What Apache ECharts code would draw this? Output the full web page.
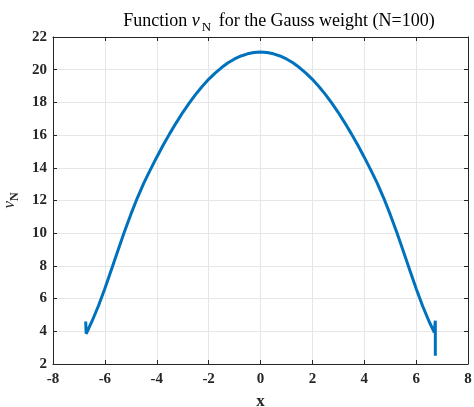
<!DOCTYPE html>
<html>
<head>
<meta charset="utf-8">
<script src="https://cdn.jsdelivr.net/npm/echarts@6/dist/echarts.min.js"></script>
<style>html,body{margin:0;padding:0;background:#fff;}#c{width:474px;height:407px;}</style>
</head>
<body>
<div id="c"></div>
<script>
// x positions of the curve samples
var xVals = [-6.74, -6.72, -6.5, -6.25, -6.0, -5.75, -5.5, -5.25, -5.0, -4.75, -4.5, -4.25, -4.0, -3.75, -3.5, -3.25, -3.0, -2.75, -2.5, -2.25, -2.0, -1.75, -1.5, -1.25, -1.0, -0.75, -0.5, -0.25, 0,
  0.25, 0.5, 0.75, 1.0, 1.25, 1.5, 1.75, 2.0, 2.25, 2.5, 2.75, 3.0, 3.25, 3.5, 3.75, 4.0, 4.25, 4.5, 4.75, 5.0, 5.25, 5.5, 5.75, 6.0, 6.25, 6.5, 6.7, 6.74, 6.74];
// nu_N values
var nuVals = [4.6, 3.85, 4.6, 5.55, 6.62, 7.77, 8.93, 10.07, 11.15, 12.15, 13.06, 13.87, 14.65, 15.39, 16.09, 16.75, 17.38, 17.95, 18.49, 18.97, 19.41, 19.79, 20.13, 20.42, 20.66, 20.84, 20.97, 21.05, 21.08,
  21.05, 20.97, 20.84, 20.66, 20.42, 20.13, 19.79, 19.41, 18.97, 18.49, 17.95, 17.38, 16.75, 16.09, 15.39, 14.65, 13.87, 13.06, 12.15, 11.15, 10.07, 8.93, 7.77, 6.62, 5.55, 4.6, 3.93, 4.65, 2.5];
var xTicks = [-8, -6, -4, -2, 0, 2, 4, 6, 8];
var yTicks = [2, 4, 6, 8, 10, 12, 14, 16, 18, 20, 22];

var data = xVals.map(function (x, i) { return [x, nuVals[i]]; });
var serif = '"Liberation Serif", "DejaVu Serif", serif';
var axCol = '#262626';
var labelStyle = { fontFamily: serif, fontWeight: 'bold', fontSize: 15, color: axCol };

var chart = echarts.init(document.getElementById('c'), null, { renderer: 'canvas' });
chart.setOption({
  animation: false,
  backgroundColor: '#ffffff',
  title: {
    text: 'Function {g|ν}{s|N} for the Gauss weight (N=100)',
    left: 274, top: 4, textAlign: 'center',
    textStyle: {
      fontFamily: serif, fontWeight: 'normal', fontSize: 18, color: '#000',
      rich: {
        g: { fontFamily: serif, fontStyle: 'italic', fontSize: 18, color: '#000', padding: [0, 2, 0, 0] },
        s: { fontFamily: serif, fontSize: 13, color: '#000', padding: [12, 3, 0, 0] }
      }
    }
  },
  grid: { left: 53, right: 6, top: 37, bottom: 43, containLabel: false, outerBoundsMode: 'none' },
  xAxis: [{
    type: 'value', min: -8, max: 8, interval: 2,
    name: 'x', nameLocation: 'middle', nameGap: 29,
    nameTextStyle: { fontFamily: serif, fontWeight: 'bold', fontSize: 17, color: axCol },
    axisLine: { onZero: false, lineStyle: { color: axCol, width: 1 } },
    axisTick: { inside: true, length: 4, lineStyle: { color: axCol } },
    axisLabel: Object.assign({ margin: 8 }, labelStyle),
    splitLine: { show: true, lineStyle: { color: '#e6e6e6', width: 1 } }
  }, {
    type: 'value', min: -8, max: 8, interval: 2, position: 'top',
    axisLine: { onZero: false, lineStyle: { color: axCol, width: 1 } },
    axisTick: { inside: true, length: 4, lineStyle: { color: axCol } },
    axisLabel: { show: false }, splitLine: { show: false }
  }],
  yAxis: [{
    type: 'value', min: 2, max: 22, interval: 2,
    name: '{g|ν}{s|N}', nameLocation: 'middle', nameGap: 29, nameRotate: 90,
    nameTextStyle: {
      fontFamily: serif, fontSize: 17, color: axCol,
      rich: {
        g: { fontFamily: serif, fontStyle: 'italic', fontSize: 17, color: axCol },
        s: { fontFamily: serif, fontWeight: 'bold', fontSize: 12, color: axCol, padding: [11, 0, 0, 0] }
      }
    },
    axisLine: { onZero: false, lineStyle: { color: axCol, width: 1 } },
    axisTick: { inside: true, length: 4, lineStyle: { color: axCol } },
    axisLabel: Object.assign({ margin: 6 }, labelStyle),
    splitLine: { show: true, lineStyle: { color: '#e6e6e6', width: 1 } }
  }, {
    type: 'value', min: 2, max: 22, interval: 2, position: 'right',
    axisLine: { show: true, onZero: false, lineStyle: { color: axCol, width: 1 } },
    axisTick: { show: true, inside: true, length: 4, lineStyle: { color: axCol } },
    axisLabel: { show: false }, splitLine: { show: false }
  }],
  series: [{
    type: 'line', data: data, showSymbol: false, symbol: 'none',
    lineStyle: { color: '#0072BD', width: 3 },
    itemStyle: { color: '#0072BD' },
    smooth: false, clip: false
  }]
});
</script>
</body>
</html>
